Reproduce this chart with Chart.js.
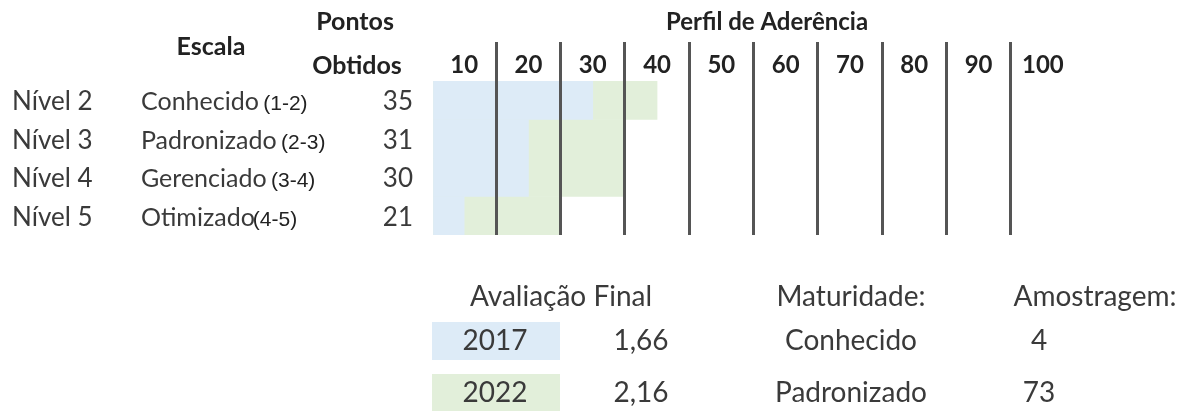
<!DOCTYPE html>
<html lang="pt-BR">
<head>
<meta charset="utf-8">
<title>Perfil de Aderência</title>
<script src="https://cdn.jsdelivr.net/npm/chart.js@4.4.0/dist/chart.umd.min.js"></script>
<style>
  body { margin: 0; background: #fff; }
  canvas { display: block; }
</style>
</head>
<body>
<canvas id="chartPerfil" width="1180" height="411"></canvas>
<script>
// dados
const niveis = ["Nível 2", "Nível 3", "Nível 4", "Nível 5"];
const escalas = ["Conhecido ", "Padronizado ", "Gerenciado ", "Otimizado"];
const faixas = ["(1-2)", "(2-3)", "(3-4)", "(4-5)"];
const pontosObtidos = [35, 31, 30, 21];
const valores2017 = [25, 15, 15, 5];
const valores2022 = [35, 30, 30, 20];
const colunas = ["10", "20", "30", "40", "50", "60", "70", "80", "90", "100"];

const anos = ["2017", "2022"];
const avaliacaoFinal = ["1,66", "2,16"];
const maturidade = ["Conhecido", "Padronizado"];
const amostragem = ["4", "73"];

const COLORS = {
  blue: "#DDEBF7",
  green: "#E2EFDA",
  text: "#3a3a3a",
  bold: "#222222",
  line: "#555555",
};

const chartPerfil = document.getElementById("chartPerfil");
const chartPerfil2D = chartPerfil.getContext("2d");

// textos da tabela em volta do gráfico
const textosPlugin = {
  id: "textos",
  afterDraw(chart) {
    const ctx = chart.ctx;
    const yScale = chart.scales.y;
    ctx.save();

    // cabeçalhos
    ctx.textBaseline = "middle";
    ctx.textAlign = "center";
    ctx.fillStyle = COLORS.bold;
    ctx.font = "bold 25px Lato";
    ctx.fillText("Escala", 211, 47);
    ctx.fillText("Pontos", 355, 22);
    ctx.fillText("Obtidos", 357, 66);
    ctx.font = "bold 24px Lato";
    ctx.fillText("Perfil de Aderência", 767, 22);

    // linhas da escala
    ctx.textBaseline = "alphabetic";
    niveis.forEach((nivel, i) => {
      const py = yScale.getPixelForValue(i) + 10;
      ctx.fillStyle = COLORS.text;
      ctx.textAlign = "left";
      ctx.font = "26px Lato";
      ctx.fillText(nivel, 12, py);
      ctx.font = "25px Lato";
      ctx.fillText(escalas[i], 141, py);
      const w = ctx.measureText(escalas[i]).width;
      ctx.font = "21px 'Liberation Sans'";
      ctx.fillStyle = "#222";
      ctx.fillText(faixas[i], 141 + w - 2, py);
      ctx.textAlign = "right";
      ctx.font = "26px Lato";
      ctx.fillStyle = COLORS.text;
      ctx.fillText(String(pontosObtidos[i]), 413, py);
    });

    // avaliação final
    ctx.textBaseline = "middle";
    ctx.textAlign = "center";
    ctx.font = "28px Lato";
    ctx.fillStyle = COLORS.text;
    ctx.fillText("Avaliação Final", 561, 297);
    ctx.fillText("Maturidade:", 851, 297);
    ctx.fillText("Amostragem:", 1095, 297);

    const linhas = [341, 393];
    const alturas = [38, 40];
    anos.forEach((ano, i) => {
      ctx.fillStyle = chart.data.datasets[i].backgroundColor;
      ctx.fillRect(432, linhas[i] - 19, 128, alturas[i]);
      ctx.fillStyle = COLORS.text;
      ctx.fillText(ano, 495, linhas[i]);
      ctx.fillText(avaliacaoFinal[i], 641, linhas[i]);
      ctx.fillText(maturidade[i], 851, linhas[i]);
      ctx.fillText(amostragem[i], 1039, linhas[i]);
    });

    ctx.restore();
  },
};

const config = {
  type: "bar",
  data: {
    labels: niveis,
    datasets: [
      {
        label: "2017",
        data: valores2017,
        backgroundColor: COLORS.blue,
      },
      {
        label: "2022",
        data: valores2022,
        backgroundColor: COLORS.green,
      },
    ],
  },
  options: {
    indexAxis: "y",
    responsive: false,
    animation: false,
    grouped: false,
    barPercentage: 1,
    categoryPercentage: 1,
    layout: {
      padding: { left: 432, right: 105, top: 0, bottom: 176 },
    },
    plugins: {
      legend: { display: false },
      tooltip: { enabled: false },
    },
    scales: {
      x: {
        position: "top",
        min: 0,
        max: 100,
        border: { display: false },
        grid: {
          z: 1, // divisórias por cima das barras
          // só as divisórias 10..90
          color: (c) => {
            const v = c.tick && c.tick.value;
            return v > 0 && v < 100 && v % 10 === 0 ? COLORS.line : "transparent";
          },
          lineWidth: 3,
          drawTicks: true,
          tickLength: 39,
        },
        ticks: {
          stepSize: 5,
          autoSkip: false,
          maxRotation: 0,
          padding: -38,
          color: COLORS.bold,
          font: { family: "Lato", weight: "bold", size: 24 },
          callback: (value) => (value % 10 === 5 ? colunas[(value - 5) / 10] : ""),
        },
        afterFit: (scale) => {
          scale.height = 81;
        },
      },
      y: {
        display: false,
      },
    },
  },
  plugins: [textosPlugin],
};

const new_chart = new Chart(chartPerfil2D, config);
</script>
</body>
</html>
